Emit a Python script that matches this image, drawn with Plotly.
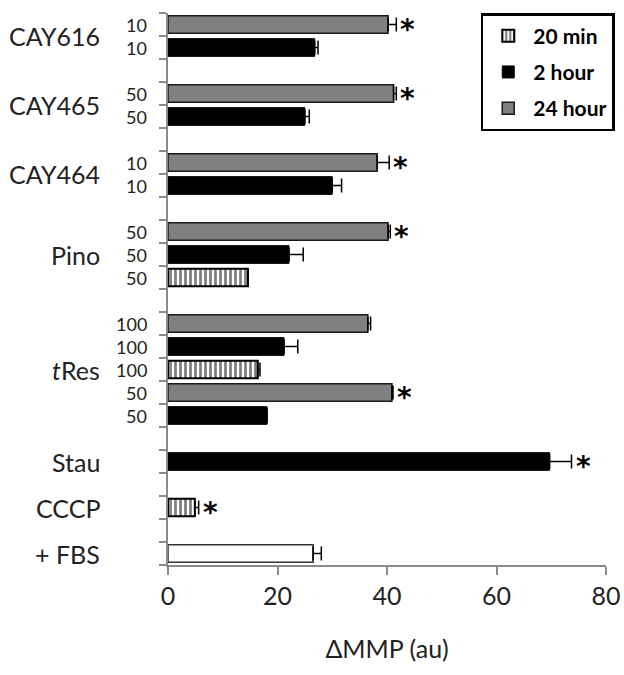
import plotly.graph_objects as go

# One row per horizontal slot, listed from top to bottom (blank rows are spacers)
row_dose = ["10", "10", "", "50", "50", "", "10", "10", "", "50", "50", "50", "",
            "100", "100", "100", "50", "50", "", "", "", "", "", ""]
row_time = ["24 hour", "2 hour", "", "24 hour", "2 hour", "", "24 hour", "2 hour", "",
            "24 hour", "2 hour", "20 min", "", "24 hour", "2 hour", "20 min", "24 hour",
            "2 hour", "", "2 hour", "", "20 min", "", "+FBS"]
row_value = [40.2, 26.8, None, 41.2, 25.0, None, 38.2, 30.0, None, 40.2, 22.1, 14.6, None,
             36.5, 21.2, 16.4, 40.9, 18.1, None, 69.7, None, 4.9, None, 26.5]
row_error = [1.5, 0.6, None, 0.5, 0.8, None, 2.2, 1.7, None, 0.4, 2.6, 0.0, None,
             0.5, 2.5, 0.4, 0.2, 0.0, None, 4.0, None, 0.7, None, 1.5]
row_star = [True, False, False, True, False, False, True, False, False, True, False, False, False,
            False, False, False, True, False, False, True, False, True, False, False]

# Treatment names and the rows each one spans
group_names = ["CAY616", "CAY465", "CAY464", "Pino", "<i>t</i>Res", "Stau", "CCCP", "+ FBS"]
group_rows = [(0, 1), (3, 4), (6, 7), (9, 11), (13, 17), (19, 19), (21, 21), (23, 23)]

x_ticks = [0, 20, 40, 60, 80]

FONT = "Lato"

series_style = {
    "20 min": dict(marker=dict(color="white", line=dict(color="black", width=2),
                               pattern=dict(shape="|", size=5, solidity=0.55,
                                            fgcolor="black", bgcolor="white", fillmode="overlay"))),
    "2 hour": dict(marker=dict(color="black", line=dict(color="black", width=1))),
    "24 hour": dict(marker=dict(color="#808080", line=dict(color="#1a1a1a", width=1.5))),
    "+FBS": dict(marker=dict(color="white", line=dict(color="#333333", width=1.5))),
}

fig = go.Figure()
for name in ["20 min", "2 hour", "24 hour", "+FBS"]:
    idx = [k for k, t in enumerate(row_time) if t == name]
    fig.add_trace(go.Bar(
        x=[row_value[k] for k in idx],
        y=idx,
        orientation="h",
        width=0.77,
        name=name,
        legendgroup=name,
        showlegend=name != "+FBS",
        error_x=dict(type="data", symmetric=False,
                     array=[row_error[k] for k in idx],
                     arrayminus=[0 for _ in idx],
                     color="black", thickness=1.5, width=7),
        **series_style[name],
    ))

annotations = []
# dose labels beside each bar
for k, d in enumerate(row_dose):
    if d:
        annotations.append(dict(x=0, y=k, xref="x", yref="y", text=d, showarrow=False,
                                xanchor="right", xshift=-19,
                                font=dict(family=FONT, size=18, color="#222222")))
# treatment names
for name, (a, b) in zip(group_names, group_rows):
    annotations.append(dict(x=0, y=(a + b) / 2, xref="x", yref="y", text=name, showarrow=False,
                            xanchor="right", xshift=-66,
                            font=dict(family=FONT, size=25, color="#222222")))
# significance marks
for k, s in enumerate(row_star):
    if s:
        annotations.append(dict(x=row_value[k] + row_error[k], y=k, xref="x", yref="y",
                                text="<b>*</b>", showarrow=False, xanchor="left",
                                xshift=2, yshift=-5,
                                font=dict(family="DejaVu Sans", size=28, color="black")))

n_rows = len(row_value)
fig.update_layout(
    width=624, height=675,
    margin=dict(l=168, r=18, t=13, b=110, autoexpand=False),
    plot_bgcolor="white", paper_bgcolor="white",
    barmode="overlay",
    showlegend=True,
    legend=dict(x=1.02, xanchor="right", y=1.0, yanchor="top",
                bordercolor="black", borderwidth=2.5, bgcolor="white",
                font=dict(family=FONT, size=21, color="black", weight="bold"),
                tracegroupgap=6, traceorder="grouped", itemwidth=40),
    annotations=annotations,
    xaxis=dict(range=[0, 80], tickvals=x_ticks, showgrid=False, zeroline=False,
               showline=True, linecolor="#8a8a8a", linewidth=1.5,
               ticks="outside", ticklen=8, tickcolor="#8a8a8a", tickwidth=1.5,
               tickfont=dict(family=FONT, size=25, color="#222222"),
               title=dict(text="ΔMMP (au)", font=dict(family=FONT, size=25, color="#222222"),
                          standoff=32)),
    yaxis=dict(range=[n_rows - 0.5, -0.5], tickvals=[k - 0.5 for k in range(n_rows + 1)],
               ticktext=["" for _ in range(n_rows + 1)], showgrid=False, zeroline=False,
               showline=True, linecolor="#8a8a8a", linewidth=1.5,
               ticks="outside", ticklen=7, tickcolor="#8a8a8a", tickwidth=1.5),
)

fig.write_html("out.html")
